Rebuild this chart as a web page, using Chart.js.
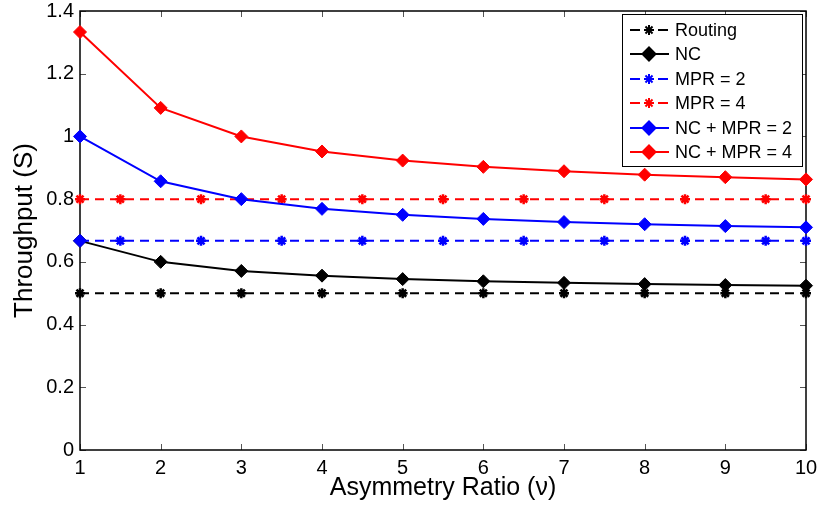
<!DOCTYPE html>
<html>
<head>
<style>
  body { margin: 0; background: #fff; }
  canvas { display: block; }
</style>
<title>Throughput vs Asymmetry Ratio</title>
</head>
<body>
<canvas id="canvas1" width="817" height="510"></canvas>
<script src="https://cdn.jsdelivr.net/npm/chart.js@4/dist/chart.umd.min.js"></script>
<script>
  // asymmetry ratio on the x axis
  var ratio = [1, 2, 3, 4, 5, 6, 7, 8, 9, 10];
  // the flat MPR curves were sampled on half steps
  var halfSteps = [1, 1.5, 2.5, 3.5, 4.5, 5.5, 6.5, 7.5, 8.5, 9.5, 10];

  var routing = [0.5, 0.5, 0.5, 0.5, 0.5, 0.5, 0.5, 0.5, 0.5, 0.5];
  var nc = [0.667, 0.6, 0.571, 0.556, 0.545, 0.538, 0.533, 0.529, 0.526, 0.524];
  var mpr2 = [0.667, 0.667, 0.667, 0.667, 0.667, 0.667, 0.667, 0.667, 0.667, 0.667, 0.667];
  var mpr4 = [0.8, 0.8, 0.8, 0.8, 0.8, 0.8, 0.8, 0.8, 0.8, 0.8, 0.8];
  var ncMpr2 = [1.0, 0.857, 0.8, 0.769, 0.75, 0.737, 0.727, 0.72, 0.714, 0.71];
  var ncMpr4 = [1.333, 1.091, 1.0, 0.952, 0.923, 0.903, 0.889, 0.878, 0.870, 0.863];

  var FONT = "'Liberation Sans', Arial, Helvetica, sans-serif";

  function pts(xs, ys) {
    var out = [];
    for (var i = 0; i < xs.length; i++) out.push({ x: xs[i], y: ys[i] });
    return out;
  }

  function series(label, xs, ys, color, dashed, order) {
    return {
      label: label,
      data: pts(xs, ys),
      borderColor: color,
      backgroundColor: color,
      borderWidth: 2,
      borderDash: dashed ? [9, 6] : [],
      pointStyle: dashed ? 'star' : 'rectRot',
      pointRadius: dashed ? 5 : 6.5,
      pointBorderWidth: dashed ? 2.5 : 1,
      pointBorderColor: color,
      pointBackgroundColor: color,
      tension: 0,
      clip: false,
      order: order
    };
  }

  var datasets = [
    series('Routing', ratio, routing, '#000000', true, 6),
    series('NC', ratio, nc, '#000000', false, 5),
    series('MPR = 2', halfSteps, mpr2, '#0000ff', true, 4),
    series('MPR = 4', halfSteps, mpr4, '#ff0000', true, 3),
    series('NC + MPR = 2', ratio, ncMpr2, '#0000ff', false, 2),
    series('NC + MPR = 4', ratio, ncMpr4, '#ff0000', false, 1)
  ];
  // first MPR = 2 sample is marked with a diamond
  datasets[2].pointStyle = function (c) { return c.dataIndex === 0 ? 'rectRot' : 'star'; };
  datasets[2].pointRadius = function (c) { return c.dataIndex === 0 ? 6.5 : 5; };
  datasets[2].pointBorderWidth = function (c) { return c.dataIndex === 0 ? 1 : 2.5; };

  // box around the plot with inward tick marks on all four sides
  var frameTicks = {
    id: 'frameTicks',
    beforeDatasetsDraw: function (chart) {
      var ctx = chart.ctx, a = chart.chartArea;
      var xs = chart.scales.x, ys = chart.scales.y;
      var len = 6;
      ctx.save();
      ctx.strokeStyle = '#555';
      ctx.lineWidth = 1;
      ctx.beginPath();
      xs.ticks.forEach(function (t) {
        var px = Math.round(xs.getPixelForValue(t.value)) + 0.5;
        ctx.moveTo(px, a.bottom); ctx.lineTo(px, a.bottom - len);
        ctx.moveTo(px, a.top); ctx.lineTo(px, a.top + len);
      });
      ys.ticks.forEach(function (t) {
        var py = Math.round(ys.getPixelForValue(t.value)) + 0.5;
        ctx.moveTo(a.left, py); ctx.lineTo(a.left + len, py);
        ctx.moveTo(a.right, py); ctx.lineTo(a.right - len, py);
      });
      ctx.stroke();
      ctx.strokeStyle = '#000';
      ctx.lineWidth = 1.5;
      ctx.strokeRect(a.left, a.top, a.right - a.left, a.bottom - a.top);
      ctx.restore();
    }
  };

  // legend drawn as a boxed list in the upper right corner
  var boxLegend = {
    id: 'boxLegend',
    afterDraw: function (chart) {
      var ctx = chart.ctx;
      var bx = 622, by = 14, bw = 180, bh = 152;
      var rowH = 24.4, first = 30;
      ctx.save();
      ctx.fillStyle = '#fff';
      ctx.fillRect(bx, by, bw, bh);
      ctx.strokeStyle = '#000';
      ctx.lineWidth = 1;
      ctx.strokeRect(bx + 0.5, by + 0.5, bw, bh);
      ctx.font = '18px ' + FONT;
      ctx.textBaseline = 'middle';
      chart.data.datasets.forEach(function (ds, i) {
        var y = Math.round(first + i * rowH);
        var dashed = ds.borderDash.length > 0;
        ctx.strokeStyle = ds.borderColor;
        ctx.lineWidth = 2;
        ctx.beginPath();
        if (dashed) {
          ctx.moveTo(630, y); ctx.lineTo(640, y);
          ctx.moveTo(658, y); ctx.lineTo(668, y);
        } else {
          ctx.moveTo(630, y); ctx.lineTo(669, y);
        }
        ctx.stroke();
        ctx.fillStyle = ds.borderColor;
        Chart.helpers.drawPoint(ctx, {
          pointStyle: dashed ? 'star' : 'rectRot',
          radius: dashed ? 5 : 6.5,
          borderWidth: dashed ? 2.5 : 1,
          rotation: 0
        }, 649, y);
        ctx.fillStyle = '#000';
        ctx.fillText(ds.label, 675, y + 1);
      });
      ctx.restore();
    }
  };

  var ctx1 = document.getElementById('canvas1').getContext('2d');
  var chart1 = new Chart(ctx1, {
    type: 'line',
    data: { datasets: datasets },
    options: {
      responsive: false,
      animation: false,
      events: [],
      layout: { padding: { left: 0, right: 11, top: 11, bottom: 0 } },
      plugins: { legend: { display: false }, tooltip: { enabled: false } },
      scales: {
        x: {
          type: 'linear',
          min: 1,
          max: 10,
          ticks: { stepSize: 1, color: '#000', padding: 8, font: { family: FONT, size: 20, lineHeight: 1 }, maxRotation: 0 },
          grid: { display: false, drawTicks: false },
          border: { display: false },
          title: { display: true, text: 'Asymmetry Ratio (\u03bd)', color: '#000', font: { family: FONT, size: 25, lineHeight: 1.2 }, padding: { top: 0, bottom: 7 } },
          afterFit: function (s) { s.height = 60; s.paddingLeft = 0; s.paddingRight = 0; }
        },
        y: {
          type: 'linear',
          min: 0,
          max: 1.4,
          ticks: {
            stepSize: 0.2, color: '#000', padding: 6, font: { family: FONT, size: 20, lineHeight: 1 },
            callback: function (v) { return String(Math.round(v * 10) / 10); }
          },
          grid: { display: false, drawTicks: false },
          border: { display: false },
          title: { display: true, text: 'Throughput (S)', color: '#000', font: { family: FONT, size: 26, lineHeight: 1.2 }, padding: { top: 9, bottom: 0 } },
          afterFit: function (s) { s.width = 80; s.paddingTop = 0; s.paddingBottom = 0; }
        }
      }
    },
    plugins: [frameTicks, boxLegend]
  });
</script>
</body>
</html>
